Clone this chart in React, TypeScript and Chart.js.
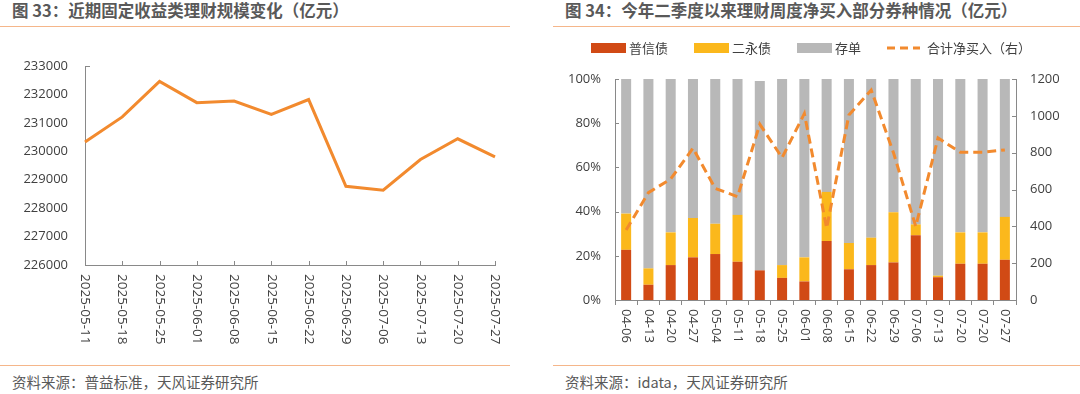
import React, { useEffect, useRef } from 'react';
import { Chart, registerables } from 'chart.js';

Chart.register(...registerables);

// ---------- Figure 33: fixed-income wealth-management scale (亿元) ----------
const sizeDates = [
  '2025-05-11', '2025-05-18', '2025-05-25', '2025-06-01', '2025-06-08', '2025-06-15',
  '2025-06-22', '2025-06-29', '2025-07-06', '2025-07-13', '2025-07-20', '2025-07-27',
];
const sizeValues = [230330, 231210, 232460, 231710, 231770, 231300, 231820, 228770, 228630, 229710, 230440, 229800];
const sizeTicks = [226000, 227000, 228000, 229000, 230000, 231000, 232000, 233000];

// ---------- Figure 34: weekly net purchases by bond type ----------
const weekLabels = [
  '04-06', '04-13', '04-20', '04-27', '05-04', '05-11', '05-18', '05-25', '06-01',
  '06-08', '06-15', '06-22', '06-29', '07-06', '07-13', '07-20', '07-20', '07-27',
];
const puxinShare = [22.7, 6.9, 15.8, 19.3, 20.8, 17.3, 13.4, 10.0, 8.4, 26.7, 13.9, 15.8, 17.0, 29.3, 10.3, 16.4, 16.4, 18.2];
const erYongShare = [16.4, 7.4, 14.8, 17.8, 13.7, 21.2, -0.5, 5.8, 10.9, 22.2, 11.9, 12.4, 22.7, 4.9, 0.7, 14.2, 14.2, 19.4];
const cdShare = [60.9, 85.7, 69.4, 62.9, 65.5, 61.5, 85.7, 84.2, 80.7, 51.1, 74.2, 71.8, 60.3, 65.8, 89.0, 69.4, 69.4, 62.4];
const netBuy = [380, 583, 657, 824, 606, 561, 954, 773, 1012, 390, 1005, 1140, 800, 400, 880, 802, 802, 815];
const shareTicks = [0, 20, 40, 60, 80, 100];
const netBuyTicks = [0, 200, 400, 600, 800, 1000, 1200];

const seriesNames = ['普信债', '二永债', '存单', '合计净买入（右）'];

const NUM_FONT = "'Open Sans', 'Noto Sans CJK SC', sans-serif";
const CJK_FONT = "'Noto Sans CJK SC', 'Open Sans', sans-serif";
const AXIS = '#898989';
const TEXT = '#404040';
const TITLE = '#595959';
const SEP = '#F5B68A';
const LINE_ORANGE = '#F28A2E';
const RED = '#D14A15';
const GOLD = '#FBB81C';
const GREY = '#B8B8B8';

function drawRotatedLabels(chart: any, gap: number, size: number) {
  const ctx = chart.ctx;
  const x = chart.scales.x;
  const area = chart.chartArea;
  ctx.save();
  ctx.fillStyle = TEXT;
  ctx.font = `${size}px ${NUM_FONT}`;
  ctx.textAlign = 'left';
  ctx.textBaseline = 'middle';
  x.ticks.forEach((t: any, i: number) => {
    const px = x.getPixelForTick(i);
    ctx.save();
    ctx.translate(px, area.bottom + gap);
    ctx.rotate(Math.PI / 2);
    ctx.fillText(String(x.getLabelForValue(t.value)), 0, 0);
    ctx.restore();
  });
  ctx.restore();
}

const leftDecor = {
  id: 'leftDecor',
  afterDraw(chart: any) {
    const ctx = chart.ctx;
    const x = chart.scales.x;
    const y = chart.scales.y;
    const area = chart.chartArea;
    ctx.save();
    ctx.strokeStyle = AXIS;
    ctx.lineWidth = 1;
    ctx.beginPath();
    x.ticks.forEach((_: any, i: number) => {
      const px = Math.round(x.getPixelForTick(i)) + 0.5;
      ctx.moveTo(px, area.bottom);
      ctx.lineTo(px, area.bottom - 4);
    });
    const topY = Math.round(y.getPixelForValue(sizeTicks[sizeTicks.length - 1])) + 0.5;
    ctx.moveTo(area.left, topY);
    ctx.lineTo(area.left + 5, topY);
    ctx.stroke();
    ctx.restore();
    drawRotatedLabels(chart, 9, 13.5);
  },
};

const rightDecor = {
  id: 'rightDecor',
  afterDraw(chart: any) {
    const ctx = chart.ctx;
    const y = chart.scales.y;
    const y1 = chart.scales.y1;
    const area = chart.chartArea;
    ctx.save();
    ctx.strokeStyle = AXIS;
    ctx.lineWidth = 1;
    ctx.beginPath();
    y.ticks.forEach((t: any) => {
      const py = Math.round(y.getPixelForValue(t.value)) + 0.5;
      ctx.moveTo(area.left, py);
      ctx.lineTo(area.left + 4, py);
    });
    y1.ticks.forEach((t: any) => {
      const py = Math.round(y1.getPixelForValue(t.value)) + 0.5;
      ctx.moveTo(area.right, py);
      ctx.lineTo(area.right - 4, py);
    });
    ctx.stroke();
    ctx.restore();
    drawRotatedLabels(chart, 9, 13);

    // legend
    ctx.save();
    ctx.font = `13px ${CJK_FONT}`;
    ctx.textBaseline = 'middle';
    ctx.textAlign = 'left';
    let cx = 38;
    const cy = 18;
    chart.data.datasets.forEach((ds: any) => {
      if (ds.type === 'line') {
        ctx.save();
        ctx.strokeStyle = ds.borderColor;
        ctx.lineWidth = 3;
        ctx.setLineDash([8, 5]);
        ctx.beginPath();
        ctx.moveTo(cx, cy);
        ctx.lineTo(cx + 33, cy);
        ctx.stroke();
        ctx.restore();
        cx += 33 + 7;
      } else {
        ctx.fillStyle = ds.backgroundColor;
        ctx.fillRect(cx, cy - 5, 35, 10);
        cx += 35 + 3;
      }
      ctx.fillStyle = TEXT;
      ctx.fillText(ds.label, cx, cy);
      cx += ctx.measureText(ds.label).width + 26;
    });
    ctx.restore();
  },
};

function LeftChart() {
  const ref = useRef<HTMLCanvasElement>(null);
  useEffect(() => {
    if (!ref.current) return;
    const chart = new Chart(ref.current, {
      type: 'line',
      data: {
        labels: sizeDates,
        datasets: [
          {
            label: '固定收益类理财规模',
            data: sizeValues,
            borderColor: LINE_ORANGE,
            borderWidth: 3,
            pointRadius: 0,
            tension: 0,
            fill: false,
          },
        ],
      },
      options: {
        responsive: false,
        animation: false,
        devicePixelRatio: 1,
        layout: { padding: { left: 0, right: 45, top: 36, bottom: 0 } },
        plugins: { legend: { display: false }, tooltip: { enabled: false } },
        scales: {
          x: {
            type: 'category',
            offset: false,
            ticks: { display: false, autoSkip: false },
            grid: { display: false, drawTicks: false },
            border: { display: true, color: AXIS, width: 1 },
            afterFit: (s: any) => { s.height = 100; },
          },
          y: {
            min: 226000,
            max: 233000,
            ticks: {
              color: TEXT,
              font: { family: NUM_FONT, size: 13 },
              padding: 17,
              callback: (v: any) => String(v),
            },
            grid: { display: false, drawTicks: false },
            border: { display: true, color: AXIS, width: 1 },
            afterBuildTicks: (s: any) => { s.ticks = sizeTicks.map((v) => ({ value: v })); },
            afterFit: (s: any) => { s.width = 85; },
          },
        },
      } as any,
      plugins: [leftDecor],
    });
    return () => chart.destroy();
  }, []);
  return <canvas ref={ref} width={540} height={335} style={{ width: 540, height: 335, display: 'block' }} />;
}

function RightChart() {
  const ref = useRef<HTMLCanvasElement>(null);
  useEffect(() => {
    if (!ref.current) return;
    const barCommon = { yAxisID: 'y', stack: 's', order: 1, categoryPercentage: 0.5, barPercentage: 0.9 };
    const chart = new Chart(ref.current, {
      type: 'bar',
      data: {
        labels: weekLabels,
        datasets: [
          { ...barCommon, label: seriesNames[0], data: puxinShare, backgroundColor: RED },
          { ...barCommon, label: seriesNames[1], data: erYongShare, backgroundColor: GOLD },
          { ...barCommon, label: seriesNames[2], data: cdShare, backgroundColor: GREY },
          {
            type: 'line',
            label: seriesNames[3],
            data: netBuy,
            yAxisID: 'y1',
            order: 0,
            borderColor: LINE_ORANGE,
            borderWidth: 3,
            borderDash: [9, 5],
            pointRadius: 0,
            tension: 0,
            fill: false,
          },
        ] as any,
      },
      options: {
        responsive: false,
        animation: false,
        devicePixelRatio: 1,
        layout: { padding: { left: 0, right: 0, top: 49, bottom: 0 } },
        plugins: { legend: { display: false }, tooltip: { enabled: false } },
        scales: {
          x: {
            stacked: true,
            offset: true,
            ticks: { display: false, autoSkip: false },
            grid: { display: true, offset: true, drawOnChartArea: false, drawTicks: true, tickLength: 5, color: AXIS },
            border: { display: true, color: AXIS, width: 1 },
            afterFit: (s: any) => { s.height = 65; },
          },
          y: {
            stacked: true,
            position: 'left',
            min: 0,
            max: 100,
            ticks: {
              color: TEXT,
              font: { family: NUM_FONT, size: 13 },
              padding: 14,
              callback: (v: any) => `${v}%`,
            },
            grid: { display: false, drawTicks: false },
            border: { display: true, color: AXIS, width: 1 },
            afterBuildTicks: (s: any) => { s.ticks = shareTicks.map((v) => ({ value: v })); },
            afterFit: (s: any) => { s.width = 62; },
          },
          y1: {
            position: 'right',
            min: 0,
            max: 1200,
            ticks: {
              color: TEXT,
              font: { family: NUM_FONT, size: 13 },
              padding: 14,
              callback: (v: any) => String(v),
            },
            grid: { display: false, drawTicks: false },
            border: { display: true, color: AXIS, width: 1 },
            afterBuildTicks: (s: any) => { s.ticks = netBuyTicks.map((v) => ({ value: v })); },
            afterFit: (s: any) => { s.width = 64; },
          },
        },
      } as any,
      plugins: [rightDecor],
    });
    return () => chart.destroy();
  }, []);
  return <canvas ref={ref} width={527} height={335} style={{ width: 527, height: 335, display: 'block' }} />;
}

const abs = (left: number, top: number, extra: React.CSSProperties = {}): React.CSSProperties => ({
  position: 'absolute',
  left,
  top,
  ...extra,
});

export default function App() {
  const titleStyle: React.CSSProperties = {
    fontFamily: CJK_FONT,
    fontWeight: 700,
    fontSize: 16.5,
    lineHeight: '20px',
    color: TITLE,
    whiteSpace: 'nowrap',
  };
  const sourceStyle: React.CSSProperties = {
    fontFamily: CJK_FONT,
    fontSize: 14.5,
    lineHeight: '20px',
    color: TITLE,
    whiteSpace: 'nowrap',
  };
  return (
    <div style={{ position: 'absolute', left: 0, top: 0, width: 1080, height: 394, background: '#fff', overflow: 'hidden' }}>
      <div style={abs(12, 0, titleStyle)}>图 33：近期固定收益类理财规模变化（亿元）</div>
      <div style={abs(565, 0, titleStyle)}>图 34：今年二季度以来理财周度净买入部分券种情况（亿元）</div>
      <div style={abs(0, 25.5, { width: 510, height: 1.5, background: SEP })} />
      <div style={abs(553, 25.5, { width: 527, height: 1.5, background: SEP })} />
      <div style={abs(0, 30, { width: 540, height: 335 })}>
        <LeftChart />
      </div>
      <div style={abs(553, 30, { width: 527, height: 335 })}>
        <RightChart />
      </div>
      <div style={abs(0, 364.5, { width: 510, height: 1.5, background: SEP })} />
      <div style={abs(553, 364.5, { width: 527, height: 1.5, background: SEP })} />
      <div style={abs(12, 372, sourceStyle)}>资料来源：普益标准，天风证券研究所</div>
      <div style={abs(565, 372, sourceStyle)}>资料来源：idata，天风证券研究所</div>
    </div>
  );
}
